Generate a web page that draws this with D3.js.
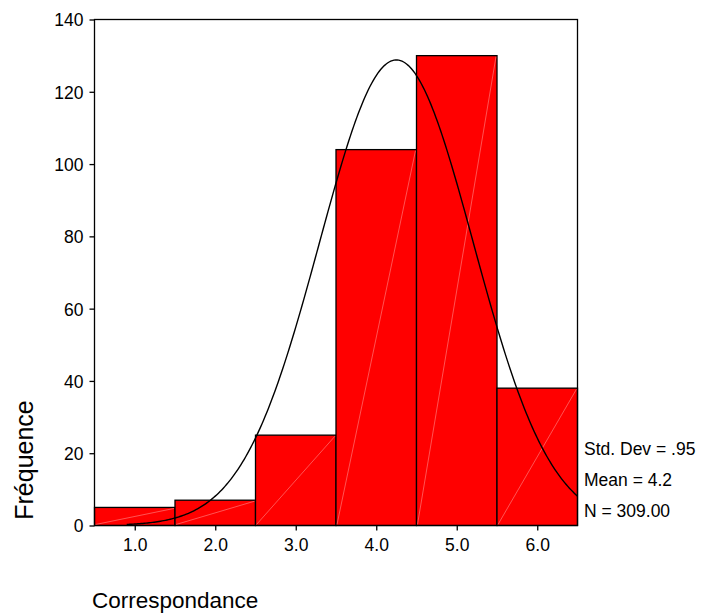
<!DOCTYPE html>
<html>
<head>
<meta charset="utf-8">
<script src="https://cdn.jsdelivr.net/npm/d3@7"></script>
<style>
  body { margin: 0; background: #fff; }
  svg { font-family: "Liberation Sans", Arial, sans-serif; }
</style>
</head>
<body>
<div id="chart"></div>
<script>
// histogram bins (midpoints) and counts
const binCenters = [1, 2, 3, 4, 5, 6];
const counts = [5, 7, 25, 104, 130, 38];
const yTicks = [0, 20, 40, 60, 80, 100, 120, 140];
const xTickLabels = ["1.0", "2.0", "3.0", "4.0", "5.0", "6.0"];
const statLines = ["Std. Dev = .95", "Mean = 4.2", "N = 309.00"];
// normal curve parameters (unrounded)
const curveMean = 4.25;
const curveSd = 0.957;
const n = 309;

const width = 703;
const height = 614;
const plotLeft = 94.5, plotRight = 577.5, plotTop = 19.5, plotBottom = 525.5;
const font = "Liberation Sans, Arial, sans-serif";

const svg = d3.select("#chart").append("svg")
  .attr("width", width)
  .attr("height", height);

const x = d3.scaleLinear().domain([0.5, 6.5]).range([plotLeft, plotRight]);
const y = d3.scaleLinear().domain([0, 140]).range([plotBottom, plotTop]);

// bars
const bars = svg.append("g");
bars.selectAll("rect")
  .data(binCenters)
  .enter()
  .append("rect")
  .attr("x", (d) => x(d - 0.5))
  .attr("y", (d, i) => y(counts[i]))
  .attr("width", (d) => x(d + 0.5) - x(d - 0.5))
  .attr("height", (d, i) => y(0) - y(counts[i]))
  .attr("fill", "#ff0000")
  .attr("stroke", "#000")
  .attr("stroke-width", 1.3);

// faint diagonal seams inside each bar
bars.selectAll("line")
  .data(binCenters)
  .enter()
  .append("line")
  .attr("x1", (d) => x(d - 0.5) + 1)
  .attr("y1", y(0) - 1)
  .attr("x2", (d) => x(d + 0.5) - 1)
  .attr("y2", (d, i) => y(counts[i]) + 1)
  .attr("stroke", "#ff8c8c")
  .attr("stroke-width", 0.6);

// normal curve
const curveX = d3.range(0.9, 6.5001, 0.02);
const pdf = (v) => n / (curveSd * Math.sqrt(2 * Math.PI)) *
  Math.exp(-0.5 * Math.pow((v - curveMean) / curveSd, 2));
const line = d3.line().x((d) => x(d)).y((d) => y(pdf(d)));
svg.append("path")
  .datum(curveX)
  .attr("d", line)
  .attr("fill", "none")
  .attr("stroke", "#000")
  .attr("stroke-width", 1.4);

// frame
svg.append("rect")
  .attr("x", plotLeft)
  .attr("y", plotTop)
  .attr("width", plotRight - plotLeft)
  .attr("height", plotBottom - plotTop)
  .attr("fill", "none")
  .attr("stroke", "#000")
  .attr("stroke-width", 1.3);

// y axis
const yAxis = svg.append("g")
  .attr("transform", `translate(${plotLeft},0)`)
  .call(d3.axisLeft(y).tickValues(yTicks).tickSize(5).tickPadding(6));
yAxis.select(".domain").remove();
yAxis.selectAll("text").attr("font-size", 17.5).attr("font-family", font)
  .attr("fill", "#000").attr("dy", "0.37em");
yAxis.selectAll("line").attr("stroke-width", 1.3);

// x axis
const xAxis = svg.append("g")
  .attr("transform", `translate(0,${plotBottom})`)
  .call(d3.axisBottom(x).tickValues(binCenters).tickSize(5).tickPadding(8)
    .tickFormat((d, i) => xTickLabels[i]));
xAxis.select(".domain").remove();
xAxis.selectAll("text").attr("font-size", 17.5).attr("font-family", font)
  .attr("fill", "#000");
xAxis.selectAll("line").attr("stroke-width", 1.3);

// stats
svg.append("g")
  .selectAll("text")
  .data(statLines)
  .enter()
  .append("text")
  .attr("x", 584)
  .attr("y", (d, i) => 455 + i * 31)
  .attr("font-size", 17.5)
  .text((d) => d);

// axis titles
svg.append("text")
  .attr("transform", "translate(33,460) rotate(-90)")
  .attr("text-anchor", "middle")
  .attr("font-size", 25)
  .text("Fréquence");

svg.append("text")
  .attr("x", 92)
  .attr("y", 608)
  .attr("font-size", 22.5)
  .text("Correspondance");
</script>
</body>
</html>
